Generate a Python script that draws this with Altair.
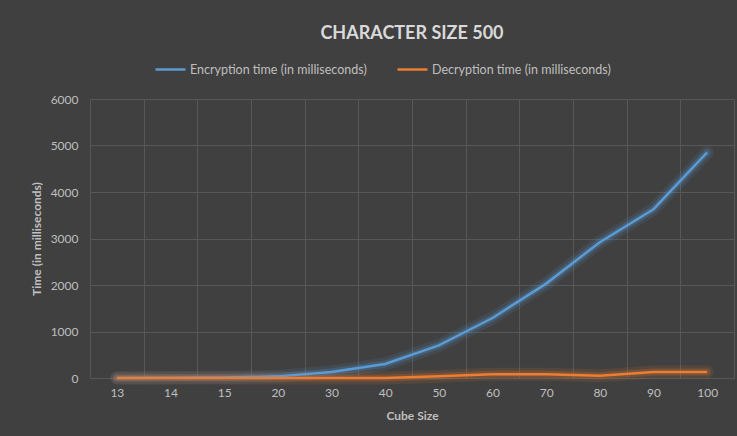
import altair as alt
import pandas as pd

cube_sizes = ["13", "14", "15", "20", "30", "40", "50", "60", "70", "80", "90", "100"]
encryption = [2, 5, 10, 35, 130, 300, 700, 1290, 2030, 2920, 3630, 4850]
decryption = [0, 0, 0, 0, 0, 2, 35, 80, 80, 50, 130, 130]
series_names = ["Encryption time (in milliseconds)", "Decryption time (in milliseconds)"]
series_colors = ["#5b9bd5", "#ed7d31"]

rows = []
for i, c in enumerate(cube_sizes):
    rows.append({"Cube Size": c, "Series": series_names[0], "Time": encryption[i], "order": i})
    rows.append({"Cube Size": c, "Series": series_names[1], "Time": decryption[i], "order": i})
df = pd.DataFrame(rows)

FONT = "Lato"
TXT = "#bfbfbf"
GRID = "#575757"
BG = "#404040"

x_enc = alt.X("Cube Size:O", sort=cube_sizes, title="Cube Size",
              axis=alt.Axis(labelAngle=0, tickBand="extent", grid=True, gridColor=GRID,
                            ticks=False, domain=False, labelColor=TXT, labelFontSize=12,
                            labelFont=FONT, labelPadding=9, titleColor=TXT, titleFont=FONT,
                            titleFontSize=12, titleFontWeight="bold", titlePadding=12))
y_enc = alt.Y("Time:Q", scale=alt.Scale(domain=[0, 6000]), title="Time (in milliseconds)",
              axis=alt.Axis(values=[0, 1000, 2000, 3000, 4000, 5000, 6000], format="d",
                            grid=True, gridColor=GRID, ticks=False, domain=False,
                            labelColor=TXT, labelFontSize=12, labelFont=FONT, labelPadding=12,
                            titleColor=TXT, titleFont=FONT, titleFontSize=12,
                            titleFontWeight="bold", titlePadding=7))
color_enc = alt.Color("Series:N", sort=series_names,
                      scale=alt.Scale(domain=series_names, range=series_colors),
                      legend=alt.Legend(title=None, orient="none", legendX=64, legendY=-46,
                                        direction="horizontal", symbolType="stroke",
                                        symbolSize=900, symbolStrokeWidth=2.5,
                                        symbolOpacity=1, labelLimit=0,
                                        labelColor=TXT, labelFont=FONT, labelFontSize=12.5,
                                        columnPadding=25, labelOffset=3))

glow_outer = alt.Chart(df).mark_line(strokeWidth=13, opacity=0.12, strokeCap="round").encode(
    x=x_enc, y=y_enc, color=color_enc, order="order:Q")
glow = alt.Chart(df).mark_line(strokeWidth=7, opacity=0.22, strokeCap="round").encode(
    x=x_enc, y=y_enc, color=color_enc, order="order:Q")
line = alt.Chart(df).mark_line(strokeWidth=2.5).encode(
    x=x_enc, y=y_enc, color=color_enc, order="order:Q")

chart = alt.layer(glow_outer, glow, line).properties(
    width=644, height=279,
    title=alt.TitleParams("CHARACTER SIZE 500", color="#d9d9d9", font=FONT, fontSize=18,
                          fontWeight="bold", anchor="middle", frame="group", offset=10),
    background=BG,
    padding={"left": 90, "top": 99, "right": 3, "bottom": 58},
    autosize=alt.AutoSizeParams(type="none"),
).configure_view(stroke=None)

chart.save("out.html", embed_options={"renderer": "svg", "actions": False})
